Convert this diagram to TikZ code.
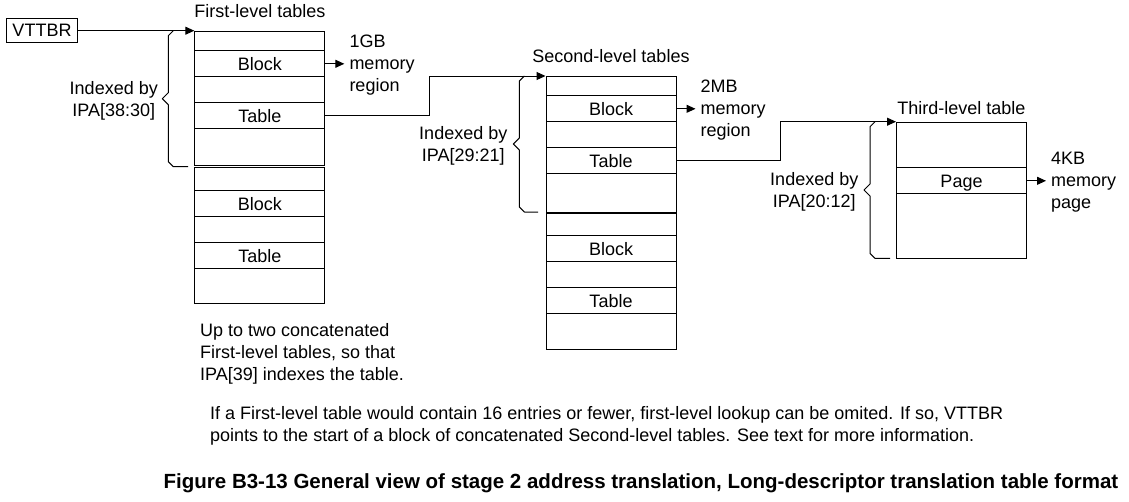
\documentclass[tikz,border=0pt]{standalone}
\usepackage{fontspec}
\setmainfont{Liberation Sans}
\usetikzlibrary{arrows.meta,calc}

% Curly bracket beside a table: #1 = x of the vertical stroke,
% #2 = top y, #3 = bottom y, #4 = x where the lower tail ends
\newcommand\tblbrace[4]{%
  \draw[brc] (#4,#3) -- ({#1+5},#3) -- (#1,{#3-5})
    -- (#1,{(#2+#3)/2+6}) -- ({#1-6},{(#2+#3)/2}) -- (#1,{(#2+#3)/2-6})
    -- (#1,{#2+5}) -- ({#1+5},#2);}

\begin{document}
\begin{tikzpicture}[x=1pt,y=-1pt,
  every node/.style={font=\fontsize{18}{22}\selectfont, inner sep=0pt},
  cell/.style={draw, line width=1pt, minimum width=130pt, anchor=north west,
    text height=12.9pt, text depth=0pt},
  conn/.style={draw, line width=1pt, -{Triangle[length=9pt,width=8pt]}},
  memarrow/.style={conn, shorten >=5pt},
  brc/.style={draw, line width=1pt, line join=round},
  heading/.style={anchor=base},
  memlabel/.style={anchor=west, align=left},
  idxlabel/.style={anchor=east, align=center},
  note/.style={anchor=west, align=left}]

\useasboundingbox (0,0) rectangle (1129,501);

% Base register
\node[draw, line width=1pt, minimum width=70.6pt, minimum height=24.3pt]
  (vttbr) at (42,30.7) {VTTBR};

% First-level tables (two concatenated)
\node[cell, minimum height=19.6pt] (f1) at (194.3,30.7) {};
\node[cell, minimum height=26pt] (f2) at (194.3,50.3) {Block};
\node[cell, minimum height=26pt] (f3) at (194.3,76.3) {};
\node[cell, minimum height=26pt] (f4) at (194.3,102.3) {Table};
\node[cell, minimum height=37pt] (f5) at (194.3,128.3) {};
\node[cell, minimum height=23pt] (f6) at (194.3,167.3) {};
\node[cell, minimum height=26pt] (f7) at (194.3,190.3) {Block};
\node[cell, minimum height=26pt] (f8) at (194.3,216.3) {};
\node[cell, minimum height=26pt] (f9) at (194.3,242.3) {Table};
\node[cell, minimum height=35pt] (f10) at (194.3,268.3) {};
\node[heading] (h1) at ($(f1.north)+(0,-13.3)$) {First-level tables};

% Second-level tables
\node[cell, minimum height=19.3pt] (s1) at (545.5,76) {};
\node[cell, minimum height=26pt] (s2) at (545.5,95.3) {Block};
\node[cell, minimum height=26pt] (s3) at (545.5,121.3) {};
\node[cell, minimum height=26pt] (s4) at (545.5,147.3) {Table};
\node[cell, minimum height=38.5pt] (s5) at (545.5,173.3) {};
\node[cell, minimum height=22.5pt] (s6) at (545.5,212.8) {};
\node[cell, minimum height=26pt] (s7) at (545.5,235.3) {Block};
\node[cell, minimum height=26pt] (s8) at (545.5,261.3) {};
\node[cell, minimum height=26pt] (s9) at (545.5,287.3) {Table};
\node[cell, minimum height=36pt] (s10) at (545.5,313.3) {};
\node[heading] (h2) at ($(s1.north)+(0,-13.3)$) {Second-level tables};

% Third-level table
\node[cell, minimum height=45.6pt] (t1) at (896,121.7) {};
\node[cell, minimum height=26pt] (t2) at (896,167.3) {Page};
\node[cell, minimum height=65pt] (t3) at (896,193.3) {};
\node[heading] (h3) at ($(t1.north)+(0,-6.9)$) {Third-level table};

% Index brackets and their labels
\tblbrace{168.3}{30.7}{166.7}{188}
\tblbrace{519.3}{76}{212}{538}
\tblbrace{870}{121.7}{258.3}{890}
\node[idxlabel] (i1) at (158,100.5) {Indexed by\\IPA[38:30]};
\node[idxlabel] (i2) at (507.5,145.5) {Indexed by\\IPA[29:21]};
\node[idxlabel] (i3) at (858.5,191.5) {Indexed by\\IPA[20:12]};

% Output regions
\node[memlabel] (m1) at ($(f2.east)+(24,1)$) {1GB\\memory\\region};
\node[memlabel] (m2) at ($(s2.east)+(24,1)$) {2MB\\memory\\region};
\node[memlabel] (m3) at ($(t2.east)+(24,1)$) {4KB\\memory\\page};
\draw[memarrow] (f2.east) -- (f2.east -| m1.west);
\draw[memarrow] (s2.east) -- (s2.east -| m2.west);
\draw[memarrow] (t2.east) -- (t2.east -| m3.west);

% Walk from one level to the next
\draw[conn] (vttbr.east) -- (f1.north west);
\draw[conn] (f4.east) -- ++(104,0) |- (s1.north west);
\draw[conn] (s4.east) -- ++(104,0) |- (t1.north west);

% Notes and caption
\node[note] (n1) at (200,354.1)
  {Up to two concatenated\\First-level tables, so that\\IPA[39] indexes the table.};
\node[note] (n2) at (210,425.4)
  {If a First-level table would contain 16 entries or fewer, first-level lookup can be omited. If so, VTTBR\\
   points to the start of a block of concatenated Second-level tables. See text for more information.};
\node[anchor=base east, font=\fontsize{20.5}{24}\selectfont\bfseries] (cap) at (1118.5,488.3)
  {Figure B3-13 General view of stage 2 address translation, Long-descriptor translation table format};
\end{tikzpicture}
\end{document}
